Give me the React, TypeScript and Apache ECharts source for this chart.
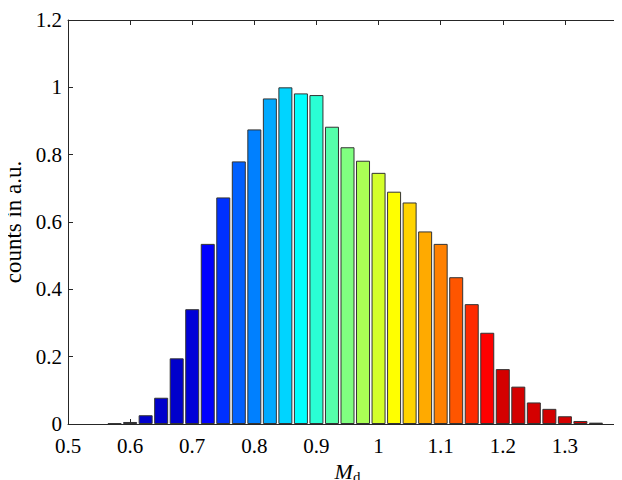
import React, { useEffect, useRef } from "react";
import * as echarts from "echarts";

const binCenters = [
  0.575, 0.6, 0.625, 0.65, 0.675, 0.7, 0.725, 0.75, 0.775, 0.8, 0.825, 0.85,
  0.875, 0.9, 0.925, 0.95, 0.975, 1.0, 1.025, 1.05, 1.075, 1.1, 1.125, 1.15,
  1.175, 1.2, 1.225, 1.25, 1.275, 1.3, 1.325, 1.35,
];
const counts = [
  0.002, 0.006, 0.026, 0.078, 0.195, 0.341, 0.535, 0.673, 0.78, 0.875, 0.967,
  1.0, 0.982, 0.977, 0.883, 0.822, 0.782, 0.746, 0.69, 0.658, 0.572, 0.535,
  0.436, 0.356, 0.271, 0.163, 0.111, 0.064, 0.045, 0.023, 0.009, 0.004,
];
const barColors = [
  "#00006a", "#000090", "#0000cc", "#0000cc", "#0000cc", "#0000d8", "#0000ff",
  "#0030ff", "#0060ff", "#0080ff", "#00aaff", "#00d4ff", "#00ffff", "#2affd4",
  "#55ffaa", "#80ff80", "#aaff55", "#d4ff2a", "#ffff00", "#ffd400", "#ffaa00",
  "#ff8000", "#ff5500", "#ff2a00", "#ff0000", "#d40000", "#d40000", "#d40000",
  "#d40000", "#d40000", "#d40000", "#800000",
];
const xTicks = { min: 0.5, max: 1.4, interval: 0.1 };
const yTicks = { min: 0, max: 1.2, interval: 0.2 };

const FONT = "Liberation Serif";
const AX = "#262626";

export default function App() {
  const ref = useRef<HTMLDivElement>(null);
  useEffect(() => {
    if (!ref.current) return;
    const chart = echarts.init(ref.current, null, { renderer: "svg" });
    const axisCommon = {
      axisLine: { show: true, onZero: false, lineStyle: { color: AX, width: 1 } },
      axisTick: { show: true, inside: true, length: 5, lineStyle: { color: AX } },
      splitLine: { show: false },
    };
    chart.setOption({
      animation: false,
      backgroundColor: "#ffffff",
      grid: { left: 68, top: 20, bottom: 56, right: -5, containLabel: false, outerBoundsMode: "none" },
      xAxis: [
        {
          type: "value",
          ...xTicks,
          ...axisCommon,
          position: "bottom",
          axisLabel: {
            color: "#000",
            fontFamily: FONT,
            fontSize: 21,
            margin: 11,
            showMaxLabel: false,
          },
          name: "{m|M}{d|d}",
          nameLocation: "middle",
          nameGap: 30,
          nameTextStyle: {
            rich: {
              m: { fontFamily: FONT, fontStyle: "italic", fontSize: 22, color: "#000", height: 22 },
              d: { fontFamily: FONT, fontSize: 15, color: "#000", height: 22, padding: [10, 0, 0, 0] },
            },
          },
        },
        {
          type: "value",
          ...xTicks,
          ...axisCommon,
          position: "top",
          axisLabel: { show: false },
        },
      ],
      yAxis: [
        {
          type: "value",
          ...yTicks,
          ...axisCommon,
          position: "left",
          axisLabel: { color: "#000", fontFamily: FONT, fontSize: 21, margin: 6 },
          name: "counts in a.u.",
          nameLocation: "middle",
          nameGap: 42,
          nameRotate: 90,
          nameTextStyle: { fontFamily: FONT, fontSize: 23, color: "#000" },
        },
        {
          type: "value",
          ...yTicks,
          ...axisCommon,
          axisTick: { show: true, inside: true, length: 7, lineStyle: { color: AX } },
          position: "right",
          axisLabel: { show: false },
        },
      ],
      series: [
        {
          type: "bar",
          xAxisIndex: 0,
          yAxisIndex: 0,
          barWidth: 14,
          data: binCenters.map((c, i) => ({
            value: [c, counts[i]],
            itemStyle: { color: barColors[i], borderColor: "#333333", borderWidth: 1 },
          })),
        },
      ],
    });
    return () => chart.dispose();
  }, []);
  return <div ref={ref} style={{ width: 622, height: 480, marginLeft: -8, marginTop: -8 }} />;
}
